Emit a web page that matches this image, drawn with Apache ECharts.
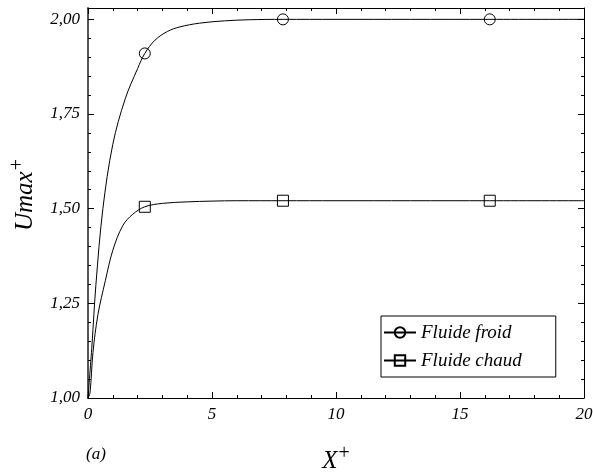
<!DOCTYPE html>
<html>
<head>
<meta charset="utf-8">
<script src="https://cdn.jsdelivr.net/npm/echarts@6/dist/echarts.min.js"></script>
<style>
html,body{margin:0;padding:0;background:#fff;}
#chart{width:593px;height:474px;}
</style>
</head>
<body>
<div id="chart"></div>
<script>
// ---- data ----
const froidX = [0, 0.16, 0.32, 0.6, 1.0, 1.5, 2.0, 2.29, 2.7, 3.2, 3.7, 4.5, 5.5, 6.5, 7.86, 10, 13, 16.2, 20];
const froidY = [1.00, 1.14, 1.30, 1.50, 1.67, 1.79, 1.87, 1.91, 1.945, 1.968, 1.980, 1.990, 1.996, 1.999, 2.00, 2.00, 2.00, 2.00, 2.00];
const chaudX = [0, 0.08, 0.2, 0.4, 0.7, 1.0, 1.4, 1.8, 2.29, 3.0, 4.0, 5.0, 6.0, 7.86, 10, 13, 16.2, 20];
const chaudY = [1.00, 1.013, 1.12, 1.22, 1.31, 1.39, 1.455, 1.485, 1.505, 1.514, 1.518, 1.520, 1.521, 1.521, 1.521, 1.521, 1.521, 1.521];
const froidMarkX = [2.29, 7.86, 16.2];
const chaudMarkX = [2.29, 7.86, 16.2];
const seriesNames = ['Fluide froid', 'Fluide chaud'];
const xTicks = [0, 5, 10, 15, 20];
const yTicks = [1.00, 1.25, 1.50, 1.75, 2.00];

const FONT = '"Liberation Serif", "Times New Roman", serif';
const chart = echarts.init(document.getElementById('chart'), null, {renderer: 'canvas'});

function build(xs, ys) { return xs.map((x, i) => [x, ys[i]]); }
function markerSize(marks) {
  return function (val) { return marks.indexOf(val[0]) >= 0 ? 11 : 0; };
}
const lab = {fontFamily: FONT, fontStyle: 'italic', fontSize: 17, color: '#000'};

function xAx(pos, interval, len, showLabel, line) {
  return {
    type: 'value', position: pos, min: 0, max: 20, interval: interval,
    axisLine: {show: line, onZero: false, lineStyle: {color: '#000', width: 1}},
    axisTick: {show: true, inside: true, length: len, lineStyle: {color: '#000', width: 1}},
    axisLabel: showLabel ? Object.assign({margin: 8, formatter: v => xTicks.indexOf(v) >= 0 ? String(v) : ''}, lab) : {show: false},
    splitLine: {show: false}
  };
}
function yAx(pos, interval, len, showLabel, line, color, width) {
  return {
    type: 'value', position: pos, min: 1, max: 2.03, interval: interval,
    axisLine: {show: line, onZero: false, lineStyle: {color: color || '#000', width: width || 1}},
    axisTick: {show: true, inside: true, length: len, lineStyle: {color: '#000', width: 1}},
    axisLabel: showLabel ? Object.assign({margin: 8, showMaxLabel: false,
      formatter: v => yTicks.some(t => Math.abs(t - v) < 1e-6) ? v.toFixed(2).replace('.', ',') : ''}, lab) : {show: false},
    splitLine: {show: false}
  };
}

const x0 = xAx('bottom', 5, 6, true, true);
x0.name = '{m|X}{s|+}';
x0.nameLocation = 'middle';
x0.nameGap = 46;
x0.nameTextStyle = {rich: {
  m: {fontFamily: FONT, fontStyle: 'italic', fontSize: 25, color: '#000'},
  s: {fontFamily: FONT, fontSize: 20, color: '#000', padding: [0, 0, 14, 1]}
}};
const y0 = yAx('left', 0.25, 6, true, true, '#555', 2);
y0.name = '{m|Umax}{s|+}';
y0.nameLocation = 'middle';
y0.nameRotate = 90;
y0.nameGap = 46;
y0.nameTextStyle = {padding: [0, 0, 0, 16], rich: {
  m: {fontFamily: FONT, fontStyle: 'italic', fontSize: 25, color: '#000'},
  s: {fontFamily: FONT, fontSize: 20, color: '#000', padding: [0, 0, 14, 1]}
}};

const option = {
  animation: false,
  backgroundColor: '#fff',
  grid: {left: 88, right: 9, top: 8, bottom: 76, containLabel: false, outerBoundsMode: 'none'},
  xAxis: [x0, xAx('bottom', 1, 3, false, false), xAx('top', 5, 6, false, true), xAx('top', 1, 3, false, false)],
  yAxis: [y0, yAx('left', 0.05, 3, false, false), yAx('right', 0.25, 6, false, true), yAx('right', 0.05, 3, false, false)],
  legend: {
    left: 381, top: 316, orient: 'vertical',
    borderColor: '#000', borderWidth: 1, borderRadius: 0,
    padding: [7, 34, 7, 2], itemGap: 9,
    itemWidth: 32, itemHeight: 13,
    textStyle: {fontFamily: FONT, fontStyle: 'italic', fontSize: 19, color: '#000'},
    data: seriesNames
  },
  graphic: [{
    type: 'text', left: 86, top: 446,
    style: {text: '(a)', font: 'italic 17px ' + FONT, fill: '#000'}
  }],
  series: [
    {
      name: seriesNames[0], type: 'line', xAxisIndex: 0, yAxisIndex: 0,
      data: build(froidX, froidY), smooth: 0.35,
      symbol: 'circle', symbolSize: markerSize(froidMarkX), showSymbol: true, showAllSymbol: true,
      lineStyle: {color: '#000', width: 1},
      itemStyle: {color: 'rgba(0,0,0,0)', borderColor: '#000', borderWidth: 1},
      emphasis: {disabled: true}, z: 3
    },
    {
      name: seriesNames[1], type: 'line', xAxisIndex: 0, yAxisIndex: 0,
      data: build(chaudX, chaudY), smooth: 0.35,
      symbol: 'rect', symbolSize: markerSize(chaudMarkX), showSymbol: true, showAllSymbol: true,
      lineStyle: {color: '#000', width: 1},
      itemStyle: {color: 'rgba(0,0,0,0)', borderColor: '#000', borderWidth: 1},
      emphasis: {disabled: true}, z: 3
    }
  ]
};
chart.setOption(option);
</script>
</body>
</html>
